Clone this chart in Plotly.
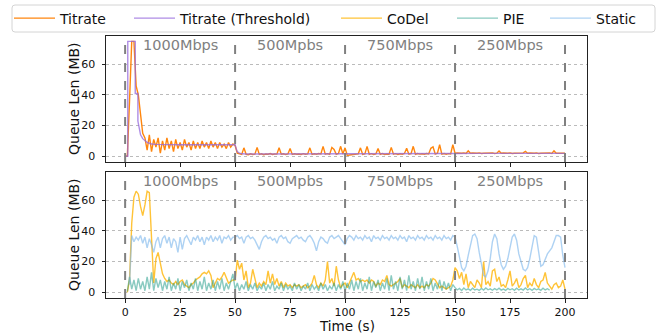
import plotly.graph_objects as go

# ---------------- data ----------------
time_s = list(range(201))  # 1-second samples, 0..200 s

titrate = [
    0, 0, 36, 75, 75, 46, 40, 26, 15, 12,
    4, 14, 3, 11, 6, 12, 2, 10, 4, 12,
    5, 10, 3, 11, 5, 9, 4, 11, 6, 9,
    4, 10, 5, 9, 5, 10, 6, 9, 5, 10,
    6, 9, 5, 9, 6, 8, 5, 9, 6, 8,
    7, 2, 1.5, 1.2, 5.5, 1.3, 1, 1.6, 1.2, 1.4,
    5.8, 1.2, 1.6, 1, 1.5, 1.3, 1.8, 1.2, 1.5, 1.4,
    5.5, 1.3, 1.6, 1.1, 1.5, 5, 1.2, 1.6, 1.3, 1.5,
    1.2, 1.7, 1.3, 1.5, 5.5, 1.2, 1.6, 1.3, 1.8, 1.5,
    6.5, 1.4, 1.7, 1.2, 5.8, 4.5, 1.3, 1.8, 6.5, 1.5,
    5.5, 0.6, 0.8, 1, 1.3, 1.1, 1.6, 5.5, 1.2, 1.5,
    6.5, 1.3, 1.7, 1.2, 1.5, 5, 1.3, 1.8, 1.2, 1.5,
    1.3, 5.8, 1.4, 1.7, 1.2, 1.6, 1.3, 1.8, 5.2, 1.4,
    1.7, 6.5, 1.3, 1.8, 1.4, 1.6, 1.3, 1.8, 1.5, 5.2,
    6.2, 1.5, 2, 7.5, 1.4, 1.8, 1.3, 1.7, 1.5, 7.5,
    2, 2.1, 1.9, 2, 2.2, 1.8, 3.5, 2, 2.1, 1.9,
    2, 2.2, 1.8, 2, 2.1, 1.9, 2, 2.2, 1.8, 2,
    3.5, 2, 2.1, 1.9, 2, 2.2, 1.8, 2, 2.1, 1.9,
    2, 2.2, 3.2, 2, 2.1, 1.9, 2, 2.2, 1.8, 2,
    2.1, 1.9, 2, 2.2, 1.8, 3.5, 2, 2.1, 1.9, 2,
    2,
]

threshold_t = [0, 1.2, 1.2, 4.6, 4.6, 5.8, 5.8, 6.5, 7, 8, 9, 10, 11, 12, 14, 17,
               20, 25, 30, 40, 50, 50.5, 51, 52, 53, 55, 60, 70, 80, 90, 100,
               110, 120, 130, 140, 150, 160, 170, 180, 190, 200]
threshold = [0, 0, 75, 75, 41, 41, 23, 18, 14, 11.5, 10, 9, 8.5, 8, 7.8, 7.6,
             7.6, 7.5, 7.5, 7.5, 7.6, 5, 3, 2, 1.6, 1.5, 1.5, 1.5, 1.6, 1.6, 1.4,
             1.4, 1.5, 1.5, 1.6, 1.8, 1.9, 1.9, 1.9, 1.9, 1.9]

codel = [
    None, 0, 8, 45, 62, 66, 64, 56, 50, 57,
    66, 65, 30, 6, 22, 26, 19, 12, 9, 7,
    8, 6, 5, 7, 5, 7, 8, 5, 4, 3,
    5, 6, 8, 9, 10, 12, 13, 12, 14, 11,
    3, 6, 9, 8, 10, 13, 9, 6, 7, 8,
    8, 21, 15, 19, 8, 14, 3, 6, 15, 9,
    3, 6, 4, 7, 5, 14, 6, 12, 5, 9,
    4, 7, 3, 6, 4, 5, 3, 5, 4, 5,
    3, 4, 5, 3, 4, 6, 11, 5, 3, 6,
    4, 8, 20, 6, 9, 4, 17, 8, 3, 5,
    6, 3, 6, 9, 13, 8, 9, 7, 8, 7,
    8, 6, 8, 7, 4, 6, 5, 8, 7, 11,
    5, 4, 5, 6, 7, 9, 3, 5, 4, 3,
    5, 4, 3, 5, 3, 4, 3, 5, 4, 6,
    9, 8, 5, 3, 4, 3, 2, 3, 4, 8,
    16, 14, 9, 13, 5, 12, 3, 7, 5, 3,
    8, 6, 3, 20, 5, 7, 4, 14, 15, 7,
    10, 4, 5, 3, 8, 14, 4, 6, 9, 3,
    5, 9, 11, 3, 6, 4, 9, 5, 3, 7,
    8, 13, 6, 4, 2, 5, 6, 3, 4, 8,
    2,
]

pie = [
    None, 0.5, 10, 2, 8, 1, 9, 2, 7, 1,
    10, 2, 13, 1, 9, 3, 8, 1, 7, 2,
    10, 1, 6, 2, 9, 1, 7, 3, 8, 1,
    6, 2, 9, 1, 7, 2, 10, 1, 6, 2,
    8, 1, 7, 2, 9, 1, 6, 2, 8, 12,
    2, 6, 1, 5, 2, 7, 1, 5, 2, 6,
    1, 4, 2, 6, 1, 5, 2, 7, 1, 4,
    2, 6, 1, 5, 2, 4, 1, 6, 2, 5,
    1, 4, 2, 6, 1, 5, 2, 4, 1, 6,
    2, 5, 1, 4, 2, 6, 1, 5, 2, 7,
    1, 6, 2, 8, 1, 7, 2, 9, 1, 6,
    2, 10, 1, 7, 3, 8, 1, 6, 2, 9,
    1, 11, 2, 7, 1, 10, 2, 8, 1, 11,
    2, 7, 1, 9, 2, 10, 1, 7, 2, 9,
    1, 6, 2, 8, 1, 7, 2, 6, 1, 5,
    3, 1.5, 2.5, 1.2, 2.8, 1.5, 2.2, 1.3, 2.6, 1.5,
    2, 1.2, 2.5, 1.4, 2.8, 1.6, 2.2, 1.3, 2.4, 1.5,
    2.7, 1.4, 2.1, 1.2, 2.5, 1.6, 2.3, 1.3, 2.6, 1.5,
    2.2, 1.4, 2.8, 1.5, 2.3, 1.2, 2.5, 1.6, 2.2, 1.3,
    2.6, 1.5, 2.3, 1.4, None, None, None, None, None, None,
    None,
]

static = [
    None, None, 5, 37, 33, 36, 34, 37, 32, 36,
    29, 35, 31, 26, 33, 36, 29, 35, 37, 32,
    36, 29, 35, 33, 26, 36, 28, 35, 37, 34,
    31, 36, 34, 37, 33, 36, 31, 36, 34, 37,
    33, 36, 34, 37, 32, 36, 35, 37, 34, 36,
    36, 37, 35, 36, 32, 36, 37, 35, 36, 34,
    31, 28, 33, 36, 37, 35, 36, 34, 35, 32,
    36, 37, 35, 36, 33, 32, 35, 36, 37, 35,
    36, 34, 33, 36, 37, 35, 32, 27, 33, 36,
    35, 33, 32, 36, 37, 35, 36, 37, 35, 33,
    31, 35, 37, 36, 34, 37, 35, 36, 34, 37,
    35, 36, 33, 37, 35, 36, 34, 37, 35, 36,
    34, 37, 35, 36, 34, 37, 35, 36, 33, 37,
    35, 36, 34, 37, 35, 36, 34, 37, 35, 36,
    34, 37, 35, 36, 34, 37, 35, 36, 34, 37,
    36, 30, 22, 16, 14, 17, 24, 31, 37, 38,
    35, 26, 17, 11, 10, 14, 22, 33, 38, 35,
    25, 18, 15, 17, 22, 28, 36, 38, 34, 25,
    19, 15, 14, 16, 22, 30, 37, 36, 26, 17,
    18, 22, 25, 27, 29, 33, 37, 37, 36, 24,
    16,
]

phase_edges = [0, 50, 100, 150, 200]
phase_centers = [25, 75, 125, 175]
phase_labels = ["1000Mbps", "500Mpbs", "750Mbps", "250Mbps"]
y_ticks = [0, 20, 40, 60]
x_ticks = [0, 25, 50, 75, 100, 125, 150, 175, 200]

# ---------------- figure ----------------
FONT = "DejaVu Sans"
W, H = 662, 334
ML, MR, MT, MB = 106, 75, 36, 36
PW, PH = W - ML - MR, H - MT - MB


def px_to_paper_x(px):
    return (px - ML) / PW


def px_to_paper_y(py):
    return (H - MB - py) / PH


series = [
    ("Titrate", time_s, titrate, "rgba(255,128,0,0.95)", "x", "y"),
    ("Titrate (Threshold)", threshold_t, threshold, "rgba(148,103,220,0.75)", "x", "y"),
    ("CoDel", time_s, codel, "rgba(255,185,20,0.85)", "x2", "y2"),
    ("PIE", time_s, pie, "rgba(20,150,130,0.5)", "x2", "y2"),
    ("Static", time_s, static, "rgba(120,180,235,0.6)", "x2", "y2"),
]
legend_line_px = [17, 137, 344, 460, 553]  # where each legend sample starts

fig = go.Figure()
legend_layouts = {}
for i, (name, xs, ys, col, xa, ya) in enumerate(series):
    lg = "legend" if i == 0 else "legend%d" % (i + 1)
    fig.add_trace(go.Scatter(x=xs, y=ys, name=name, mode="lines",
                             line=dict(color=col, width=1.4),
                             xaxis=xa, yaxis=ya, legend=lg))
    legend_layouts[lg] = dict(
        orientation="h", xref="paper", yref="paper",
        x=px_to_paper_x(legend_line_px[i] - 8), xanchor="left",
        y=px_to_paper_y(18.5), yanchor="middle",
        borderwidth=0, bgcolor="rgba(0,0,0,0)", itemwidth=41,
        font=dict(family=FONT, size=14, color="#111"))

shapes = []
annotations = []
for xa, ya in (("x", "y"), ("x2", "y2")):
    for e in phase_edges:
        shapes.append(dict(type="line", xref=xa, yref=ya + " domain", x0=e, x1=e, y0=0, y1=1,
                           line=dict(color="#808080", width=2, dash="dash"), layer="above"))
    for c, lab in zip(phase_centers, phase_labels):
        annotations.append(dict(x=c, y=72.5, xref=xa, yref=ya, text=lab, showarrow=False,
                                font=dict(family=FONT, size=14.5, color="#808080"),
                                xanchor="center", yanchor="middle"))

# axis titles placed as annotations for exact positioning
for yc in (99, 235):
    annotations.append(dict(x=px_to_paper_x(74), y=px_to_paper_y(yc), xref="paper", yref="paper",
                            text="Queue Len (MB)", textangle=-90, showarrow=False,
                            font=dict(family=FONT, size=14, color="#111"),
                            xanchor="center", yanchor="middle"))
annotations.append(dict(x=px_to_paper_x(346.5), y=px_to_paper_y(326.3), xref="paper", yref="paper",
                        text="Time (s)", showarrow=False, borderpad=0,
                        font=dict(family=FONT, size=13.5, color="#111"),
                        xanchor="center", yanchor="middle"))

# legend frame (rounded box)
lx0, lx1 = px_to_paper_x(12), px_to_paper_x(655)
ly0, ly1 = px_to_paper_y(32), px_to_paper_y(5)
rx, ry = 3 / PW, 3 / PH
frame = (f"M{lx0 + rx},{ly1} L{lx1 - rx},{ly1} Q{lx1},{ly1} {lx1},{ly1 - ry} "
         f"L{lx1},{ly0 + ry} Q{lx1},{ly0} {lx1 - rx},{ly0} L{lx0 + rx},{ly0} "
         f"Q{lx0},{ly0} {lx0},{ly0 + ry} L{lx0},{ly1 - ry} Q{lx0},{ly1} {lx0 + rx},{ly1} Z")
shapes.append(dict(type="path", xref="paper", yref="paper", path=frame,
                   line=dict(color="#d4d4d4", width=1), layer="below"))

axis_common = dict(showline=True, linecolor="#222", linewidth=1, mirror=True,
                   ticks="outside", ticklen=3.5, tickcolor="#222", zeroline=False,
                   tickfont=dict(family=FONT, size=11, color="#111"))

fig.update_layout(
    width=W, height=H,
    margin=dict(l=ML, r=MR, t=MT, b=MB, autoexpand=False),
    paper_bgcolor="white", plot_bgcolor="white",
    font=dict(family=FONT, color="#111"),
    shapes=shapes, annotations=annotations,
    xaxis=dict(domain=[0, 1], anchor="y", range=[-8.7, 210], tickvals=x_ticks,
               showticklabels=False, showgrid=False, **axis_common),
    yaxis=dict(domain=[0.519, 1], anchor="x", range=[-3.75, 78.5], tickvals=y_ticks,
               showgrid=True, gridcolor="#bbbbbb", griddash="dot", gridwidth=1,
               ticklabelstandoff=4, **axis_common),
    xaxis2=dict(domain=[0, 1], anchor="y2", range=[-8.7, 210], tickvals=x_ticks,
                showgrid=False, **axis_common),
    yaxis2=dict(domain=[0, 0.481], anchor="x2", range=[-3.75, 78.5], tickvals=y_ticks,
                showgrid=True, gridcolor="#bbbbbb", griddash="dot", gridwidth=1,
                ticklabelstandoff=4, **axis_common),
    showlegend=True,
    **legend_layouts,
)

fig.write_html("out.html", config={"displayModeBar": False},
               post_script="document.body.style.margin='0px';")
